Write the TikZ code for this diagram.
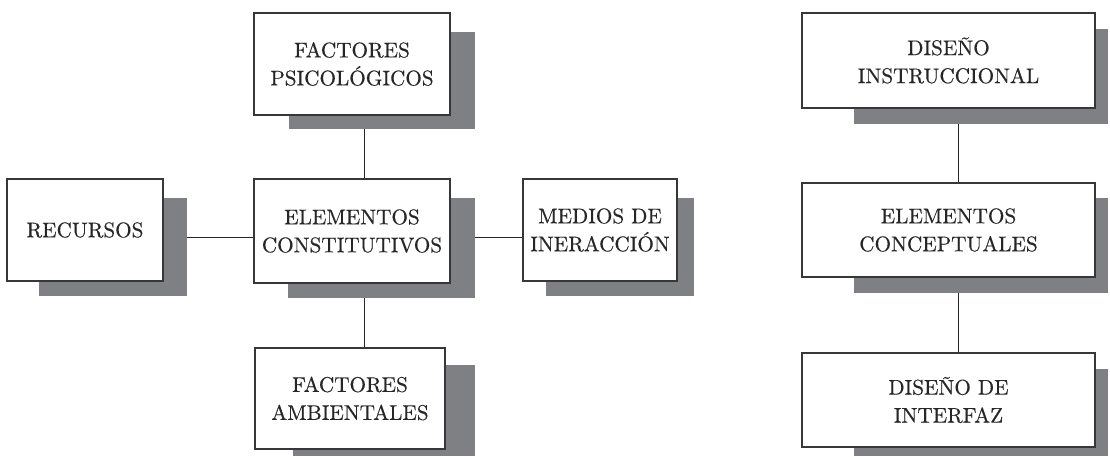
\documentclass[tikz,border=0pt]{standalone}
\usepackage{fontspec}
\setmainfont{lmroman10-regular.otf}[FakeBold=0.4]
\usepackage{tikz}
\usetikzlibrary{positioning}
\usetikzlibrary{calc}

\definecolor{shadegray}{RGB}{127,128,132}
\definecolor{framegray}{RGB}{55,55,58}

\begin{document}
\begin{tikzpicture}[
        x = 1pt, y = -1pt,
        box/.style = {draw = framegray, line width = 1.2pt, fill = white,
                      rectangle, align = center, text = black!85,
                      font = \fontsize{21.2}{28}\selectfont},
        shade/.style = {fill = shadegray, rectangle, inner sep = 0pt},
        link/.style = {draw = black!85, line width = 0.9pt},
        ]
    \useasboundingbox (0,0) rectangle (1110,456);

    % sombras
    \node[shade, minimum width = 186pt, minimum height = 97pt] (psico-sh)  at (382,80.5) {};
    \node[shade, minimum width = 148pt, minimum height = 98pt] (recur-sh)  at (113,247) {};
    \node[shade, minimum width = 187pt, minimum height = 100pt] (const-sh) at (381.5,248) {};
    \node[shade, minimum width = 148pt, minimum height = 98pt] (medio-sh)  at (620,247) {};
    \node[shade, minimum width = 182pt, minimum height = 91pt] (ambie-sh)  at (384,410.5) {};
    \node[shade, minimum width = 254pt, minimum height = 95pt] (instr-sh)  at (981,76.5) {};
    \node[shade, minimum width = 254pt, minimum height = 95pt] (conce-sh)  at (981,245.5) {};
    \node[shade, minimum width = 254pt, minimum height = 87pt] (inter-sh)  at (981,412.5) {};

    % cajas
    \node[box, minimum width = 196pt, minimum height = 102pt] (psico) at (352,64) {FACTORES\\PSICOLÓGICOS};
    \node[box, minimum width = 156pt, minimum height = 102pt] (recur) at (85,230) {RECURSOS};
    \node[box, minimum width = 196pt, minimum height = 104pt] (const) at (352,231) {ELEMENTOS\\CONSTITUTIVOS};
    \node[box, minimum width = 154pt, minimum height = 102pt] (medio) at (600,230) {MEDIOS DE\\INERACCIÓN};
    \node[box, minimum width = 190pt, minimum height = 101pt] (ambie) at (350,398.5) {FACTORES\\AMBIENTALES};
    \node[box, minimum width = 293pt, minimum height = 95pt] (instr) at (948.5,60.5) {DISEÑO\\INSTRUCCIONAL};
    \node[box, minimum width = 293pt, minimum height = 94pt] (conce) at (948.5,230) {ELEMENTOS\\CONCEPTUALES};
    \node[box, minimum width = 293pt, minimum height = 94pt] (inter) at (948.5,400) {DISEÑO DE\\INTERFAZ};

    % centros de cada grupo
    \coordinate (const-c) at ($(const.north west)!.5!(const-sh.south east)$);
    \coordinate (recur-c) at ($(recur.north west)!.5!(recur-sh.south east)$);
    \coordinate (medio-c) at ($(medio.north west)!.5!(medio-sh.south east)$);
    \coordinate (conce-c) at ($(conce.north west)!.5!(conce-sh.south east)+(4,0)$);

    % conexiones
    \draw[link] (const-c |- psico-sh.south) -- (const-c |- const.north);
    \draw[link] (const-c |- const-sh.south) -- (const-c |- ambie.north);
    \draw[link] (recur-c -| recur-sh.east) -- (recur-c -| const.west);
    \draw[link] (medio-c -| const-sh.east) -- (medio-c -| medio.west);
    \draw[link] (conce-c |- instr-sh.south) -- (conce-c |- conce.north);
    \draw[link] (conce-c |- conce-sh.south) -- (conce-c |- inter.north);
\end{tikzpicture}
\end{document}
